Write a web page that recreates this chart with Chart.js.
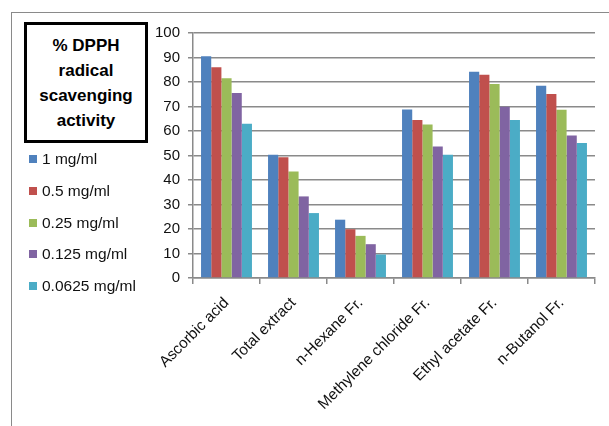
<!DOCTYPE html>
<html>
<head>
<meta charset="utf-8">
<script src="https://cdn.jsdelivr.net/npm/chart.js@4"></script>
<style>
  html, body { margin:0; padding:0; background:#fff; overflow:hidden; }
  #wrap { position:relative; width:609px; height:426px; }
  #frame { position:absolute; left:11px; top:12px; width:700px; height:500px; border:1.5px solid #8a8a8a; box-sizing:border-box; }
  #c { position:absolute; left:0; top:0; }
  #titlebox { position:absolute; left:24px; top:22px; width:124px; height:121px; box-sizing:border-box; border:3px solid #000; background:#fff;
    font-family:"Liberation Sans", Arial, sans-serif; font-weight:bold; font-size:17px; line-height:25px; text-align:center; color:#000;
    display:flex; align-items:center; justify-content:center; }
  #legend { position:absolute; left:29px; top:150px; font-family:"Liberation Sans", Arial, sans-serif; font-size:15.5px; color:#111; }
  .li { position:absolute; left:0; white-space:nowrap; height:18px; line-height:18px; }
  .sw { display:inline-block; width:8px; height:8px; margin-right:5px; vertical-align:middle; position:relative; top:-1px; }
</style>
</head>
<body>
<div id="wrap">
  <div id="frame"></div>
  <canvas id="c" width="609" height="426"></canvas>
  <div id="titlebox"><div>% DPPH<br>radical<br>scavenging<br>activity</div></div>
  <div id="legend"></div>
</div>
<script>
const categories = ["Ascorbic acid", "Total extract", "n-Hexane Fr.", "Methylene chloride Fr.", "Ethyl acetate Fr.", "n-Butanol Fr."];
const seriesNames = ["1 mg/ml", "0.5 mg/ml", "0.25 mg/ml", "0.125 mg/ml", "0.0625 mg/ml"];
const s1mg     = [90.5, 50.3, 23.8, 68.8, 84.2, 78.5];
const s05mg    = [86.0, 49.3, 19.9, 64.5, 83.0, 75.1];
const s025mg   = [81.5, 43.5, 17.2, 62.7, 79.2, 68.7];
const s0125mg  = [75.5, 33.3, 13.8, 53.7, 69.9, 58.2];
const s00625mg = [63.0, 26.5,  9.6, 50.3, 64.5, 55.1];
const yTicks = [0, 10, 20, 30, 40, 50, 60, 70, 80, 90, 100];
const colors = ["#4F81BD", "#C0504D", "#9BBB59", "#8064A2", "#4BACC6"];

const seriesValues = [s1mg, s05mg, s025mg, s0125mg, s00625mg];
const datasets = seriesNames.map((n, i) => ({
  label: n, data: seriesValues[i], backgroundColor: colors[i], borderWidth: 0,
  categoryPercentage: 0.76, barPercentage: 1.0
}));

// HTML legend built from series names & colors
const lg = document.getElementById('legend');
seriesNames.forEach((n, i) => {
  const d = document.createElement('div');
  d.className = 'li';
  d.style.top = (i * 31.8) + 'px';
  d.innerHTML = '<span class="sw" style="background:' + colors[i] + '"></span>' + n;
  lg.appendChild(d);
});

const fam = '"Liberation Sans", Arial, sans-serif';
new Chart(document.getElementById('c'), {
  type: 'bar',
  data: { labels: categories, datasets },
  options: {
    responsive: false, animation: false, devicePixelRatio: 1,
    layout: { padding: { left: 150, right: 14, top: 33, bottom: 0 } },
    plugins: { legend: { display: false }, tooltip: { enabled: false }, title: { display: false } },
    scales: {
      x: {
        grid: { display: true, drawOnChartArea: false, offset: true, color: '#8a8a8a', lineWidth: 1.5, tickLength: 6 },
        border: { display: true, color: '#8a8a8a', width: 1.5 },
        ticks: { color: '#111', font: { family: fam, size: 15.3 }, maxRotation: 45, minRotation: 45, padding: 10, autoSkip: false },
        afterFit: (s) => { s.height = 148; }
      },
      y: {
        min: 0, max: 100,
        afterBuildTicks: (s) => { s.ticks = yTicks.map(v => ({ value: v })); },
        grid: { color: '#8a8a8a', lineWidth: 1.5, tickLength: 5, drawTicks: true },
        border: { display: true, color: '#8a8a8a', width: 1.5 },
        ticks: { color: '#111', font: { family: fam, size: 15 }, padding: 8 },
        afterFit: (s) => { s.width = 43; }
      }
    }
  }
});
</script>
</body>
</html>
